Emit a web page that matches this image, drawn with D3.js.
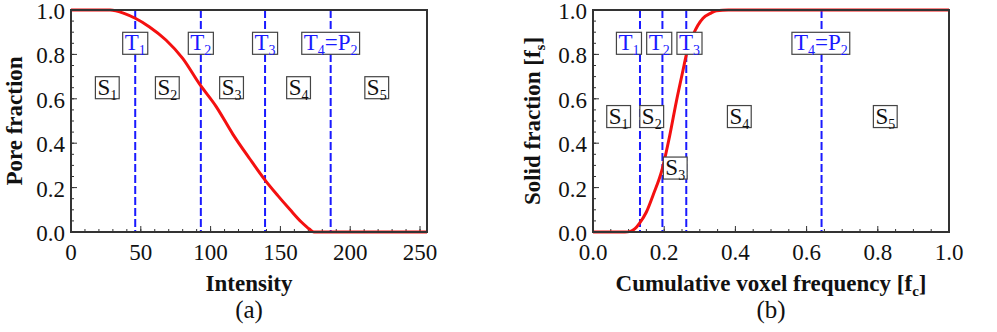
<!DOCTYPE html>
<html>
<head>
<meta charset="utf-8">
<script src="https://cdn.jsdelivr.net/npm/d3@7"></script>
<style>
  body { margin: 0; background: #fff; }
  svg { display: block; font-family: "Liberation Serif", "Times New Roman", serif; }
</style>
</head>
<body>
<div id="chart"></div>
<script>
// ---------- data ----------
// (a) pore fraction vs intensity
const poreX = [0, 28, 32, 38, 46, 56, 68, 80, 92, 104, 116, 128, 139, 148, 157, 165, 171, 174, 255];
const poreY = [1, 1, 0.997, 0.985, 0.963, 0.925, 0.865, 0.782, 0.667, 0.565, 0.44, 0.33, 0.234, 0.165, 0.1, 0.045, 0.012, 0, 0];
const poreThresholds = [46, 93, 139, 186];
const poreTLabels = [["T", "1"], ["T", "2"], ["T", "3"], ["T", "4", "=P", "2"]];
const poreTPos = [[46, 0.85], [93, 0.85], [139, 0.85], [186, 0.85]];
const poreSLabels = [["S", "1"], ["S", "2"], ["S", "3"], ["S", "4"], ["S", "5"]];
const poreSPos = [[26, 0.65], [69, 0.65], [115, 0.65], [163, 0.65], [219, 0.65]];
const poreXTicks = [0, 50, 100, 150, 200, 250];

// (b) solid fraction vs cumulative voxel frequency
const solidX = [0, 0.09, 0.105, 0.118, 0.131, 0.15, 0.169, 0.195, 0.215, 0.234, 0.253, 0.262, 0.281, 0.309, 0.33, 0.347, 0.38, 1];
const solidY = [0, 0, 0.003, 0.015, 0.04, 0.09, 0.167, 0.287, 0.43, 0.587, 0.73, 0.797, 0.887, 0.963, 0.985, 0.997, 1, 1];
const solidThresholds = [0.132, 0.195, 0.262, 0.642];
const solidTLabels = [["T", "1"], ["T", "2"], ["T", "3"], ["T", "4", "=P", "2"]];
const solidTPos = [[0.101, 0.85], [0.186, 0.85], [0.271, 0.85], [0.64, 0.85]];
const solidSLabels = [["S", "1"], ["S", "2"], ["S", "3"], ["S", "4"], ["S", "5"]];
const solidSPos = [[0.072, 0.52], [0.165, 0.52], [0.231, 0.288], [0.411, 0.52], [0.821, 0.52]];
const solidXTicks = [0, 0.2, 0.4, 0.6, 0.8, 1.0];

const yTicks = [0, 0.2, 0.4, 0.6, 0.8, 1.0];

const width = 997, height = 332;
const blue = "#1a1aff", red = "#f41010", frame = "#333";

const svg = d3.select("#chart").append("svg")
    .attr("width", width).attr("height", height)
    .attr("viewBox", `0 0 ${width} ${height}`);
svg.append("rect").attr("width", width).attr("height", height).attr("fill", "#fff");

// text with subscript parts: [main, sub, main, sub ...]
function richText(sel, parts, bigSize, subSize) {
    let shifted = false;
    parts.forEach((p, i) => {
        const isSub = i % 2 === 1;
        const t = sel.append("tspan").text(p)
            .style("font-size", (isSub ? subSize : bigSize) + "px");
        if (isSub && !shifted) { t.attr("dy", 5); shifted = true; }
        else if (!isSub && shifted) { t.attr("dy", -5); shifted = false; }
    });
}

function drawPanel(cfg) {
    const { left, right, top, bottom } = cfg;
    const x = d3.scaleLinear().domain(cfg.xDomain).range([left, right]);
    const y = d3.scaleLinear().domain([0, 1]).range([bottom, top]);
    const g = svg.append("g");

    // minor + major ticks, drawn inward
    const xMinor = d3.range(cfg.xDomain[0], cfg.xDomain[1] + 1e-9, cfg.xMinor);
    g.selectAll(".xminor").data(xMinor).enter().append("line")
        .attr("x1", d => x(d)).attr("x2", d => x(d))
        .attr("y1", bottom).attr("y2", bottom - 3)
        .attr("stroke", frame).attr("stroke-width", 1);
    g.selectAll(".xmajor").data(cfg.xTicks).enter().append("line")
        .attr("x1", d => x(d)).attr("x2", d => x(d))
        .attr("y1", bottom).attr("y2", bottom - 6)
        .attr("stroke", frame).attr("stroke-width", 1);
    const yMinor = d3.range(0, 1.0001, 0.05);
    g.selectAll(".yminor").data(yMinor).enter().append("line")
        .attr("x1", left).attr("x2", left + 3)
        .attr("y1", d => y(d)).attr("y2", d => y(d))
        .attr("stroke", frame).attr("stroke-width", 1);
    g.selectAll(".ymajor").data(yTicks).enter().append("line")
        .attr("x1", left).attr("x2", left + 6)
        .attr("y1", d => y(d)).attr("y2", d => y(d))
        .attr("stroke", frame).attr("stroke-width", 1);

    // tick labels
    g.selectAll(".xlab").data(cfg.xTicks).enter().append("text")
        .attr("x", d => x(d)).attr("y", bottom + 28)
        .attr("text-anchor", "middle")
        .style("font-size", "23px").attr("fill", "#111")
        .text(cfg.xFormat);
    g.selectAll(".ylab").data(yTicks).enter().append("text")
        .attr("x", left - 6).attr("y", d => y(d) + 9)
        .attr("text-anchor", "end")
        .style("font-size", "23px").attr("fill", "#111")
        .text(d => d.toFixed(1));

    // threshold lines
    g.selectAll(".thr").data(cfg.thresholds).enter().append("line")
        .attr("x1", d => x(d)).attr("x2", d => x(d))
        .attr("y1", top).attr("y2", bottom)
        .attr("stroke", blue).attr("stroke-width", 2)
        .attr("stroke-dasharray", "8,3");

    // curve
    const line = d3.line().x(d => x(d[0])).y(d => y(d[1])).curve(d3.curveMonotoneX);
    g.append("path")
        .datum(cfg.cx.map((v, i) => [v, cfg.cy[i]]))
        .attr("d", line)
        .attr("fill", "none").attr("stroke", red).attr("stroke-width", 3);

    // frame
    g.append("rect")
        .attr("x", left).attr("y", top)
        .attr("width", right - left).attr("height", bottom - top)
        .attr("fill", "none").attr("stroke", frame).attr("stroke-width", 2);

    // boxed labels
    function boxLabel(parts, pos, color) {
        const lg = g.append("g");
        const bg = lg.append("rect").attr("fill", "#fff")
            .attr("stroke", "#444").attr("stroke-width", 1.2);
        const t = lg.append("text")
            .attr("x", x(pos[0])).attr("y", y(pos[1]) + 7)
            .attr("text-anchor", "middle").attr("fill", color);
        richText(t, parts, 23, 14);
        const bb = t.node().getBBox();
        bg.attr("x", bb.x - 2).attr("y", y(pos[1]) - 11)
            .attr("width", bb.width + 4).attr("height", 22);
    }
    cfg.tLabels.forEach((p, i) => boxLabel(p, cfg.tPos[i], blue));
    cfg.sLabels.forEach((p, i) => boxLabel(p, cfg.sPos[i], "#111"));

    // axis titles
    const xt = g.append("text")
        .attr("x", (left + right) / 2).attr("y", bottom + 59)
        .attr("text-anchor", "middle")
        .style("font-size", "23px").style("font-weight", "bold").attr("fill", "#111");
    richText(xt, cfg.xTitle, 23, 15);
    const yt = g.append("text")
        .attr("transform", `translate(${cfg.yTitleX},${(top + bottom) / 2}) rotate(-90)`)
        .attr("text-anchor", "middle")
        .style("font-size", "23px").style("font-weight", "bold").attr("fill", "#111");
    richText(yt, cfg.yTitle, 23, 15);

    g.append("text")
        .attr("x", (left + right) / 2).attr("y", bottom + 86)
        .attr("text-anchor", "middle")
        .style("font-size", "25px").attr("fill", "#111")
        .text(cfg.tag);
}

drawPanel({
    left: 71, right: 427, top: 10, bottom: 232,
    xDomain: [0, 255], xMinor: 10, xTicks: poreXTicks, xFormat: d => d,
    thresholds: poreThresholds, cx: poreX, cy: poreY,
    tLabels: poreTLabels, tPos: poreTPos, sLabels: poreSLabels, sPos: poreSPos,
    xTitle: ["Intensity"], yTitle: ["Pore fraction"], yTitleX: 22, tag: "(a)"
});

drawPanel({
    left: 593, right: 949, top: 10, bottom: 232,
    xDomain: [0, 1], xMinor: 0.05, xTicks: solidXTicks, xFormat: d => d.toFixed(1),
    thresholds: solidThresholds, cx: solidX, cy: solidY,
    tLabels: solidTLabels, tPos: solidTPos, sLabels: solidSLabels, sPos: solidSPos,
    xTitle: ["Cumulative voxel frequency [f", "c", "]"],
    yTitle: ["Solid fraction [f", "s", "]"], yTitleX: 540, tag: "(b)"
});
</script>
</body>
</html>
